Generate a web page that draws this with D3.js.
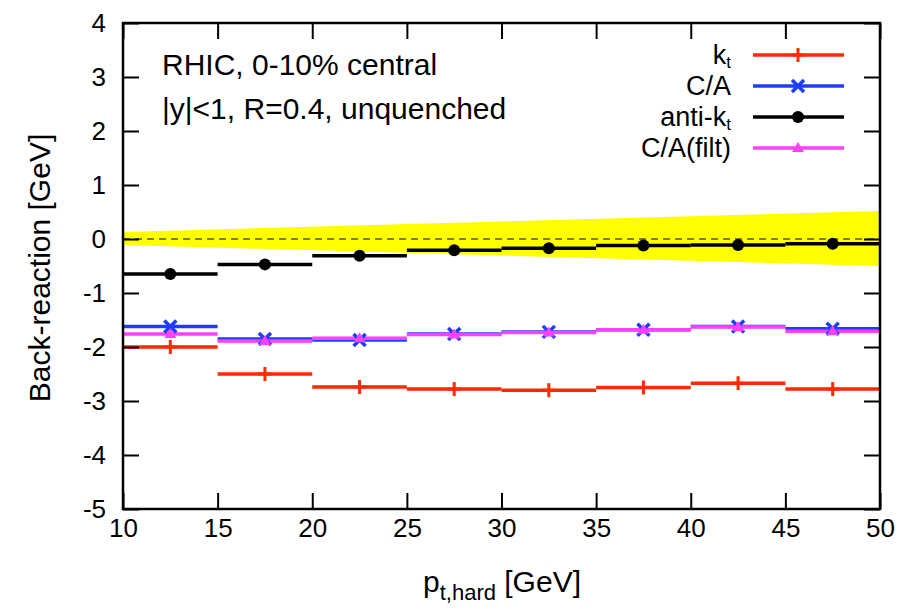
<!DOCTYPE html>
<html>
<head>
<meta charset="utf-8">
<script src="https://cdn.jsdelivr.net/npm/d3@7"></script>
<style>
  body { margin: 0; background: #fff; }
  svg text { font-family: "Liberation Sans", Arial, Helvetica, sans-serif; fill: #000; }
</style>
</head>
<body>
<svg></svg>
<script>
// bins in p_t,hard
const binEdges = [10, 15, 20, 25, 30, 35, 40, 45, 50]
const binCentres = [12.5, 17.5, 22.5, 27.5, 32.5, 37.5, 42.5, 47.5]

// back-reaction values per bin [GeV]
const ktValues = [-2.0, -2.5, -2.74, -2.78, -2.8, -2.75, -2.67, -2.78]
const caValues = [-1.62, -1.85, -1.87, -1.76, -1.72, -1.68, -1.62, -1.66]
const antiktValues = [-0.65, -0.47, -0.31, -0.21, -0.17, -0.12, -0.11, -0.09]
const cafiltValues = [-1.76, -1.89, -1.84, -1.77, -1.73, -1.68, -1.63, -1.71]

// yellow band around zero
const bandX = [10, 50]
const bandLow = [-0.11, -0.50]
const bandHigh = [0.13, 0.52]

const xTicks = [10, 15, 20, 25, 30, 35, 40, 45, 50]
const yTicks = [-5, -4, -3, -2, -1, 0, 1, 2, 3, 4]

const width = 907
const height = 608
const plotLeft = 123, plotRight = 880, plotTop = 23, plotBottom = 509

const svg = d3.select('svg')
    .attr('width', width)
    .attr('height', height)

const xScale = d3.scaleLinear().domain([10, 50]).range([plotLeft, plotRight])
const yScale = d3.scaleLinear().domain([-5, 4]).range([plotBottom, plotTop])

let series = [
    {name: 'kt', values: ktValues, color: '#ff2a00', marker: 'plus'},
    {name: 'ca', values: caValues, color: '#1f3dff', marker: 'cross'},
    {name: 'antikt', values: antiktValues, color: '#000000', marker: 'circle'},
    {name: 'cafilt', values: cafiltValues, color: '#ff40ff', marker: 'triangle'}
]

// band
let area = d3.area()
    .x((d, i) => xScale(bandX[i]))
    .y0((d, i) => yScale(bandLow[i]))
    .y1((d, i) => yScale(bandHigh[i]))
svg.append('path')
    .datum(bandX)
    .attr('d', area)
    .attr('fill', '#ffff00')

// zero line
svg.append('line')
    .attr('x1', xScale(10)).attr('x2', xScale(50))
    .attr('y1', yScale(0)).attr('y2', yScale(0))
    .attr('stroke', '#000')
    .attr('stroke-width', 1)
    .attr('stroke-dasharray', '7,5')

// horizontal bin segments
series.forEach(s => {
    svg.append('g').selectAll('line')
        .data(s.values)
        .enter()
        .append('line')
        .attr('x1', (d, i) => xScale(binEdges[i]))
        .attr('x2', (d, i) => xScale(binEdges[i + 1]))
        .attr('y1', d => yScale(d))
        .attr('y2', d => yScale(d))
        .attr('stroke', s.color)
        .attr('stroke-width', 3.5)
})

let drawMarker = (g, type, color, x, y) => {
    if (type === 'plus') {
        g.append('line').attr('x1', x).attr('x2', x).attr('y1', y - 7).attr('y2', y + 7)
            .attr('stroke', color).attr('stroke-width', 3)
        g.append('line').attr('x1', x - 7).attr('x2', x + 7).attr('y1', y).attr('y2', y)
            .attr('stroke', color).attr('stroke-width', 3)
    } else if (type === 'cross') {
        g.append('path').attr('d', `M${x - 6},${y - 6}L${x + 6},${y + 6}M${x - 6},${y + 6}L${x + 6},${y - 6}`)
            .attr('stroke', color).attr('stroke-width', 3.5)
    } else if (type === 'circle') {
        g.append('circle').attr('cx', x).attr('cy', y).attr('r', 6).attr('fill', color)
    } else {
        g.append('path').attr('d', `M${x},${y - 6}L${x + 6},${y + 4}L${x - 6},${y + 4}Z`)
            .attr('fill', color)
    }
}

// markers at bin centres
series.forEach(s => {
    let g = svg.append('g')
    s.values.forEach((v, i) => {
        drawMarker(g, s.marker, s.color, xScale(binCentres[i]), yScale(v))
    })
})

// axes with mirrored inner ticks
let axisStyle = g => {
    g.select('.domain').remove()
    g.selectAll('.tick line').attr('stroke', '#000').attr('stroke-width', 2)
    g.selectAll('.tick text').attr('font-size', 26).attr('fill', '#000')
        .attr('font-family', '"Liberation Sans", Arial, sans-serif')
}
let plain = d => String(d)

svg.append('g')
    .attr('transform', 'translate(0,' + plotBottom + ')')
    .call(d3.axisBottom(xScale).tickValues(xTicks).tickSizeInner(-16).tickSizeOuter(0).tickPadding(10).tickFormat(plain))
    .call(axisStyle)
svg.append('g')
    .attr('transform', 'translate(0,' + plotTop + ')')
    .call(d3.axisTop(xScale).tickValues(xTicks).tickSizeInner(-16).tickSizeOuter(0).tickFormat(''))
    .call(axisStyle)
svg.append('g')
    .attr('transform', 'translate(' + plotLeft + ',0)')
    .call(d3.axisLeft(yScale).tickValues(yTicks).tickSizeInner(-16).tickSizeOuter(0).tickPadding(17).tickFormat(plain))
    .call(axisStyle)
svg.append('g')
    .attr('transform', 'translate(' + plotRight + ',0)')
    .call(d3.axisRight(yScale).tickValues(yTicks).tickSizeInner(-16).tickSizeOuter(0).tickFormat(''))
    .call(axisStyle)

// frame
svg.append('rect')
    .attr('x', plotLeft).attr('y', plotTop)
    .attr('width', plotRight - plotLeft).attr('height', plotBottom - plotTop)
    .attr('fill', 'none')
    .attr('stroke', '#000')
    .attr('stroke-width', 2.5)

// axis titles
let xt = svg.append('text')
    .attr('x', 502).attr('y', 592)
    .attr('text-anchor', 'middle')
    .attr('font-size', 30)
xt.append('tspan').text('p')
xt.append('tspan').text('t,hard').attr('font-size', 22).attr('dy', 8)
xt.append('tspan').text(' [GeV]').attr('dy', -8)

svg.append('text')
    .attr('transform', 'translate(50,' + ((plotTop + plotBottom) / 2 + 2) + ') rotate(-90)')
    .attr('text-anchor', 'middle')
    .attr('font-size', 30)
    .text('Back-reaction [GeV]')

// annotations
svg.append('text').attr('x', 162).attr('y', 75).attr('font-size', 30).text('RHIC, 0-10% central')
svg.append('text').attr('x', 162).attr('y', 119).attr('font-size', 30).text('|y|<1, R=0.4, unquenched')

// legend
let legendLabels = [['k', 't'], ['C/A', ''], ['anti-k', 't'], ['C/A(filt)', '']]
let legendY = [55, 86, 117, 148]
series.forEach((s, i) => {
    let y = legendY[i]
    let t = svg.append('text')
        .attr('x', 731).attr('y', y + 9)
        .attr('text-anchor', 'end')
        .attr('font-size', 27)
    t.append('tspan').text(legendLabels[i][0])
    if (legendLabels[i][1]) {
        t.append('tspan').text(legendLabels[i][1]).attr('font-size', 17).attr('dy', 4)
    }
    svg.append('line')
        .attr('x1', 753).attr('x2', 844)
        .attr('y1', y).attr('y2', y)
        .attr('stroke', s.color).attr('stroke-width', 3.5)
    drawMarker(svg.append('g'), s.marker, s.color, 798, y)
})
</script>
</body>
</html>
